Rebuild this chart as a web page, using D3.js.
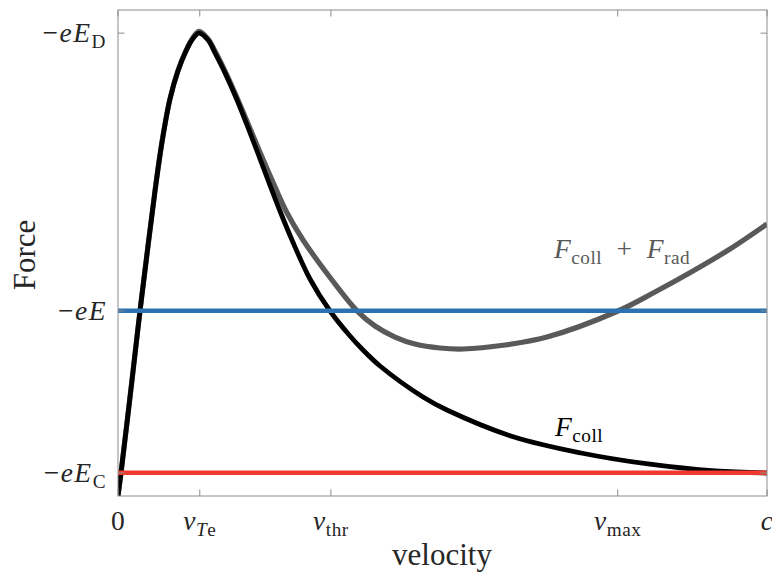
<!DOCTYPE html>
<html>
<head>
<meta charset="utf-8">
<script src="https://cdn.jsdelivr.net/npm/d3@7"></script>
<style>
  html, body { margin: 0; padding: 0; background: #fff; }
  svg { display: block; }
</style>
</head>
<body>
<svg id="chart" width="772" height="574"></svg>
<script>
// ---------------- data ----------------
// velocity normalised to c, force in units of eE_C
const collV = [0, 0.0046, 0.0216, 0.0339, 0.0462, 0.0570, 0.0678, 0.0801, 0.0924, 0.1048, 0.1140, 0.1248, 0.1387, 0.1495, 0.1649, 0.1834, 0.1988, 0.2142, 0.2311, 0.2496, 0.2681, 0.2958, 0.3267, 0.3575, 0.3775, 0.4037, 0.4700, 0.5069, 0.6102, 0.7134, 0.8166, 0.9199, 1.0];
const collF = [0, 0.994, 5.012, 7.994, 10.80, 13.179, 15.296, 17.154, 18.364, 19.228, 19.704, 20.0, 19.704, 19.142, 18.278, 17.111, 16.031, 14.907, 13.654, 12.315, 11.062, 9.377, 7.994, 6.914, 6.309, 5.617, 4.278, 3.716, 2.549, 1.858, 1.383, 1.080, 0.994];

const totV = [0, 0.0046, 0.0216, 0.0339, 0.0462, 0.0570, 0.0678, 0.0801, 0.0924, 0.1048, 0.1140, 0.1248, 0.1387, 0.1510, 0.1664, 0.1849, 0.2018, 0.2173, 0.2373, 0.2589, 0.2851, 0.3297, 0.3683, 0.3960, 0.4268, 0.4576, 0.4961, 0.5316, 0.5963, 0.6610, 0.7704, 0.8274, 0.8860, 0.9430, 1.0];
const totF = [0, 0.994, 5.012, 7.994, 10.80, 13.179, 15.296, 17.16, 18.38, 19.25, 19.74, 20.08, 19.75, 19.142, 18.278, 17.111, 15.988, 14.951, 13.654, 12.315, 11.062, 9.333, 8.0, 7.346, 6.870, 6.568, 6.395, 6.352, 6.525, 6.870, 7.994, 8.815, 9.722, 10.673, 11.753];

const appliedForce = 8;     // -eE
const criticalForce = 1;    // -eE_C
const dreicerForce = 20;    // -eE_D

const xTickValues = [0, 0.126, 0.328, 0.770, 1];
const xTickLabels = [
  [{t: "0"}],
  [{t: "v", i: true}, {t: "T", i: true, s: true}, {t: "e", s: true}],
  [{t: "v", i: true}, {t: "thr", s: true}],
  [{t: "v", i: true}, {t: "max", s: true}],
  [{t: "c", i: true}]
];
const yTickValues = [criticalForce, appliedForce, dreicerForce];
const yTickLabels = [
  [{t: "\u2212"}, {t: "eE", i: true}, {t: "C", s: true}],
  [{t: "\u2212"}, {t: "eE", i: true}],
  [{t: "\u2212"}, {t: "eE", i: true}, {t: "D", s: true}]
];

// ---------------- layout ----------------
const svg = d3.select("#chart");
const L = 118, R = 767, T = 10, B = 496;
const x = d3.scaleLinear().domain([0, 1]).range([L, R]);
const y = d3.scaleLinear().domain([0, 21]).range([B, T]);
const FONT = "'Liberation Serif', 'DejaVu Serif', serif";
const FS = 27.5;

function mathText(parent, px, py, parts, opts) {
  const fs = opts.fs || FS;
  const t = parent.append("text")
    .attr("x", px).attr("y", py)
    .attr("text-anchor", opts.anchor || "start")
    .attr("font-family", FONT)
    .attr("font-size", fs)
    .attr("fill", opts.fill || "#000");
  if (opts.ls) t.attr("letter-spacing", opts.ls);
  if (opts.rotate) t.attr("transform", `rotate(${opts.rotate},${px},${py})`);
  let inSub = false;
  parts.forEach(p => {
    const ts = t.append("tspan").text(p.t);
    if (p.i) ts.attr("font-style", "italic");
    if (p.s) {
      ts.attr("font-size", fs * 0.7);
      if (!inSub) ts.attr("dy", fs * 0.22);
      inSub = true;
    } else {
      if (inSub) ts.attr("dy", -fs * 0.22);
      inSub = false;
    }
  });
  return t;
}

svg.append("defs").append("clipPath").attr("id", "clip")
  .append("rect").attr("x", L).attr("y", T).attr("width", R - L).attr("height", B - T);

const plot = svg.append("g").attr("clip-path", "url(#clip)");

const line = d3.line().x(d => x(d[0])).y(d => y(d[1])).curve(d3.curveCatmullRom.alpha(0.5));

plot.append("path")
  .datum(totV.map((v, i) => [v, totF[i]]))
  .attr("d", line).attr("fill", "none")
  .attr("stroke", "#595959").attr("stroke-width", 5.2);

plot.append("path")
  .datum(collV.map((v, i) => [v, collF[i]]))
  .attr("d", line).attr("fill", "none")
  .attr("stroke", "#000").attr("stroke-width", 4.8);

plot.append("line")
  .attr("x1", x(0)).attr("x2", x(1))
  .attr("y1", y(appliedForce)).attr("y2", y(appliedForce))
  .attr("stroke", "#2a72b4").attr("stroke-width", 4.5);

plot.append("line")
  .attr("x1", x(0)).attr("x2", x(1))
  .attr("y1", y(criticalForce)).attr("y2", y(criticalForce))
  .attr("stroke", "#ef3b2f").attr("stroke-width", 4.5);

// ---------------- axes ----------------
const axCol = "#8c8c8c";
const tl = 6.5;
const axes = svg.append("g");
axes.append("rect").attr("x", L).attr("y", T).attr("width", R - L).attr("height", B - T)
  .attr("fill", "none").attr("stroke", axCol).attr("stroke-width", 1);

xTickValues.forEach(v => {
  axes.append("line").attr("x1", x(v)).attr("x2", x(v)).attr("y1", B).attr("y2", B - tl)
    .attr("stroke", axCol);
  axes.append("line").attr("x1", x(v)).attr("x2", x(v)).attr("y1", T).attr("y2", T + tl)
    .attr("stroke", axCol);
});
yTickValues.forEach(v => {
  axes.append("line").attr("x1", L).attr("x2", L + tl).attr("y1", y(v)).attr("y2", y(v))
    .attr("stroke", axCol);
  axes.append("line").attr("x1", R).attr("x2", R - tl).attr("y1", y(v)).attr("y2", y(v))
    .attr("stroke", axCol);
});

xTickValues.forEach((v, i) => {
  mathText(svg, x(v), 530, xTickLabels[i], {anchor: "middle", fill: "#262626", ls: 0.5});
});
yTickValues.forEach((v, i) => {
  mathText(svg, 107, y(v) + 9, yTickLabels[i], {anchor: "end", fill: "#262626", ls: 1.5});
});

// axis titles
mathText(svg, 442, 565, [{t: "velocity"}], {anchor: "middle", fs: 31, fill: "#262626"});
mathText(svg, 35, 255, [{t: "Force"}], {anchor: "middle", fs: 31, fill: "#262626", rotate: -90});

// curve labels
mathText(svg, 554, 258, [{t: "F", i: true}, {t: "coll", s: true}, {t: "\u2002+\u2002"}, {t: "F", i: true}, {t: "rad", s: true}],
  {anchor: "start", fill: "#595959", ls: 0.5});
mathText(svg, 555, 436, [{t: "F", i: true}, {t: "coll", s: true}], {anchor: "start", fill: "#000", ls: 0.5});
</script>
</body>
</html>
